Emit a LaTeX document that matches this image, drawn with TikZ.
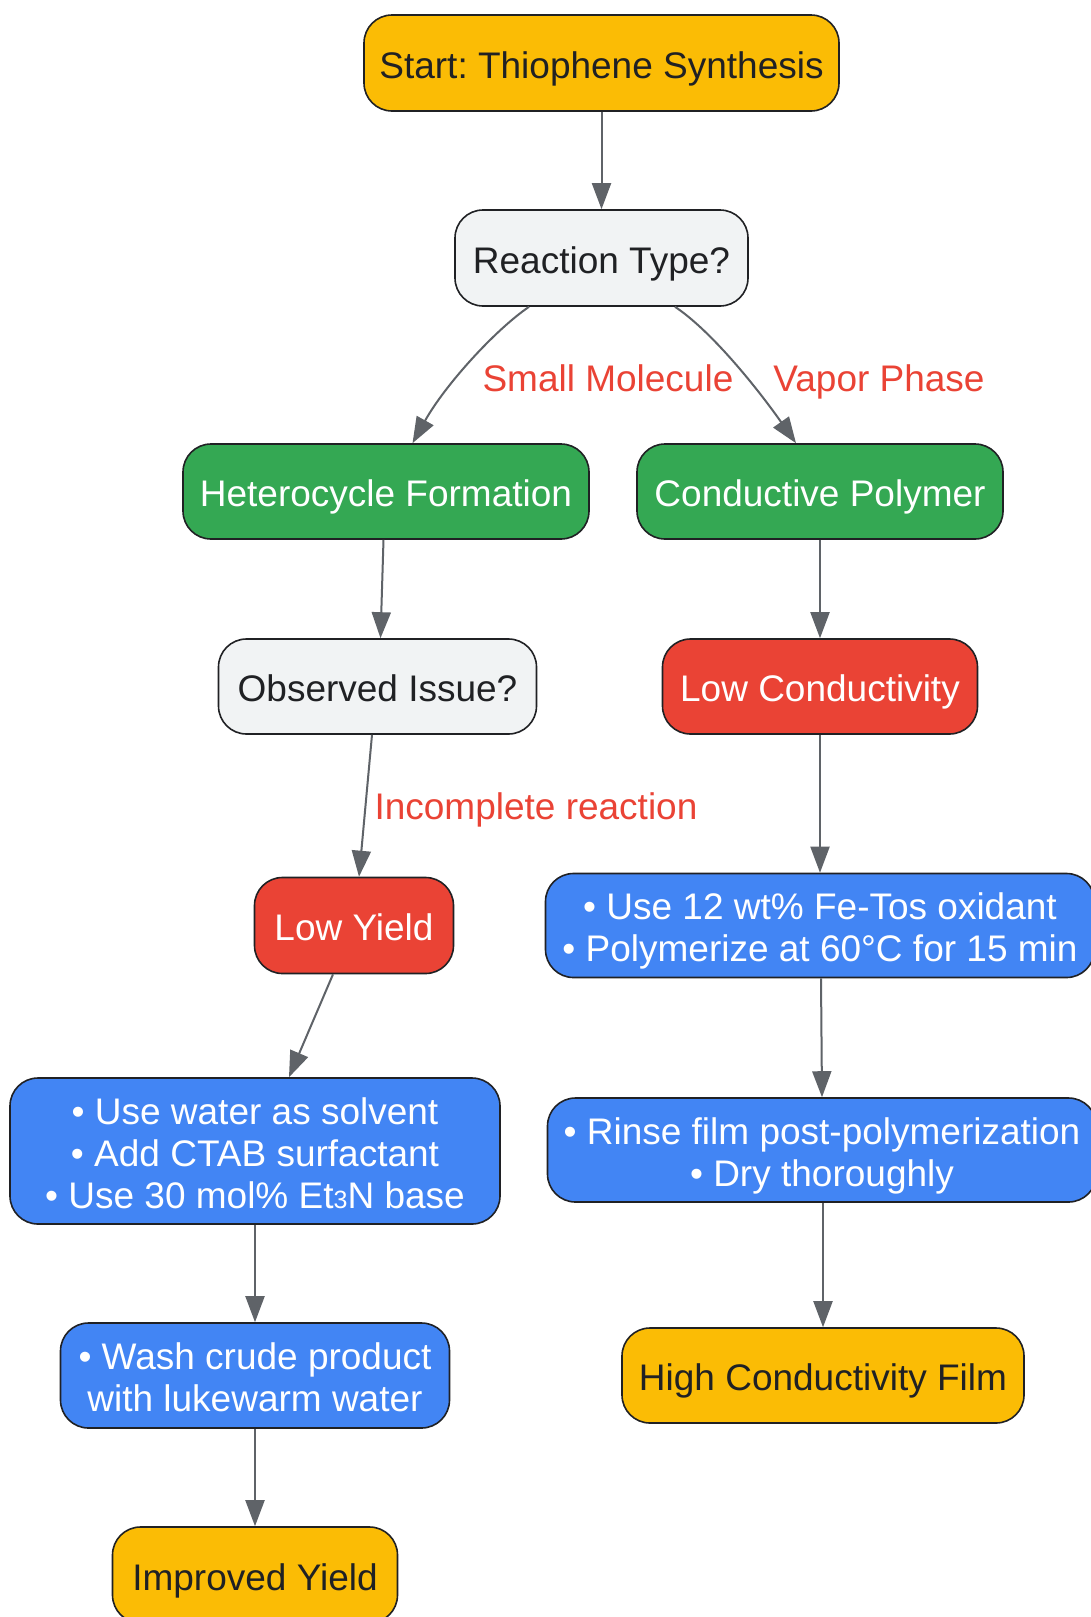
\documentclass[tikz,border=0pt]{standalone}
\usepackage{fontspec}
\setmainfont{Liberation Sans}
\usetikzlibrary{arrows.meta,calc}
\definecolor{cyel}{HTML}{FBBC05}
\definecolor{cgrn}{HTML}{34A853}
\definecolor{cred}{HTML}{EA4335}
\definecolor{cblu}{HTML}{4285F4}
\definecolor{cgry}{HTML}{F1F3F4}
\definecolor{cdark}{HTML}{202124}
\definecolor{cedge}{HTML}{5F6368}
\tikzset{
  box/.style={draw=cdark, line width=1.6pt, rounded corners=28pt, align=center,
    inner sep=0pt, font=\fontsize{37}{42}\selectfont\frenchspacing, text depth=0pt, text height=30pt},
  twol/.style={text height=72pt},
  threel/.style={text height=114pt},
  ystart/.style={box, fill=cyel, text=cdark},
  gdec/.style={box, fill=cgry, text=cdark},
  gbox/.style={box, fill=cgrn, text=white},
  rbox/.style={box, fill=cred, text=white},
  bbox/.style={box, fill=cblu, text=white},
  conn/.style={draw=cedge, line width=2pt, -{Triangle[length=26pt,width=19pt]}},
  elab/.style={text=cred, font=\fontsize{37}{42}\selectfont, inner sep=0pt, text depth=0pt, text height=27pt}
}
\newcommand{\subthree}{{\fontsize{25}{25}\selectfont 3}}
\begin{document}
\begin{tikzpicture}[x=1pt,y=-1pt]
\useasboundingbox (0,0) rectangle (1090,1617);
\fill[white] (0,0) rectangle (1090,1617);

\node[ystart, minimum width=475pt, minimum height=96pt] (start) at (601.5,63) {Start: Thiophene Synthesis};
\node[gdec, minimum width=293pt, minimum height=96pt] (rt) at (601.5,258) {Reaction Type?};
\node[gbox, minimum width=406pt, minimum height=95pt] (het) at (386,491.5) {Heterocycle Formation};
\node[gbox, minimum width=366pt, minimum height=95pt] (cp) at (820,491.5) {Conductive Polymer};
\node[gdec, minimum width=318pt, minimum height=95pt] (obs) at (377.5,686.5) {Observed Issue?};
\node[rbox, minimum width=315pt, minimum height=95pt] (lc) at (820,686.5) {Low Conductivity};
\node[rbox, minimum width=199pt, minimum height=96pt] (ly) at (354,925.5) {Low Yield};
\node[bbox, twol, minimum width=549pt, minimum height=104pt] (fe) at (820,925.5) {• Use 12 wt\% Fe-Tos oxidant\\• Polymerize at 60°C for 15 min};
\node[bbox, twol, minimum width=549pt, minimum height=104pt] (rin) at (822,1150) {• Rinse film post-polymerization\\• Dry thoroughly};
\node[ystart, minimum width=402pt, minimum height=95pt] (hc) at (823,1375.5) {High Conductivity Film};
\node[bbox, threel, minimum width=490pt, minimum height=146pt] (wat) at (255,1151) {• Use water as solvent\\• Add CTAB surfactant\\• Use 30 mol\% Et\subthree N base};
\node[bbox, twol, minimum width=389pt, minimum height=105pt] (wash) at (255,1375.5) {• Wash crude product\\with lukewarm water};
\node[ystart, minimum width=285pt, minimum height=96pt] (imp) at (255,1575) {Improved Yield};

\draw[conn] (start.south) -- (rt.north);
\draw[conn] ([xshift=-72.5pt]rt.south) .. controls (495,330) and (445,385) .. ([xshift=26.5pt]het.north);
\draw[conn] ([xshift=73.5pt]rt.south) .. controls (710,330) and (755,385) .. ([xshift=-24pt]cp.north);
\draw[conn] ([xshift=-2.5pt]het.south) -- ([xshift=3pt]obs.north);
\draw[conn] ([xshift=-5.5pt]obs.south) -- ([xshift=5pt]ly.north);
\draw[conn] ([xshift=-21pt]ly.south) -- ([xshift=34pt]wat.north);
\draw[conn] (wat.south) -- (wash.north);
\draw[conn] (wash.south) -- (imp.north);
\draw[conn] (cp.south) -- (lc.north);
\draw[conn] (lc.south) -- (fe.north);
\draw[conn] ([xshift=1pt]fe.south) -- ([xshift=0pt]rin.north);
\draw[conn] ([xshift=1pt]rin.south) -- (hc.north);

\node[elab] (l1) at (608,377.5) {Small Molecule};
\node[elab] (l2) at (879,377.5) {Vapor Phase};
\node[elab] (l3) at (536,806) {Incomplete reaction};
\end{tikzpicture}
\end{document}
